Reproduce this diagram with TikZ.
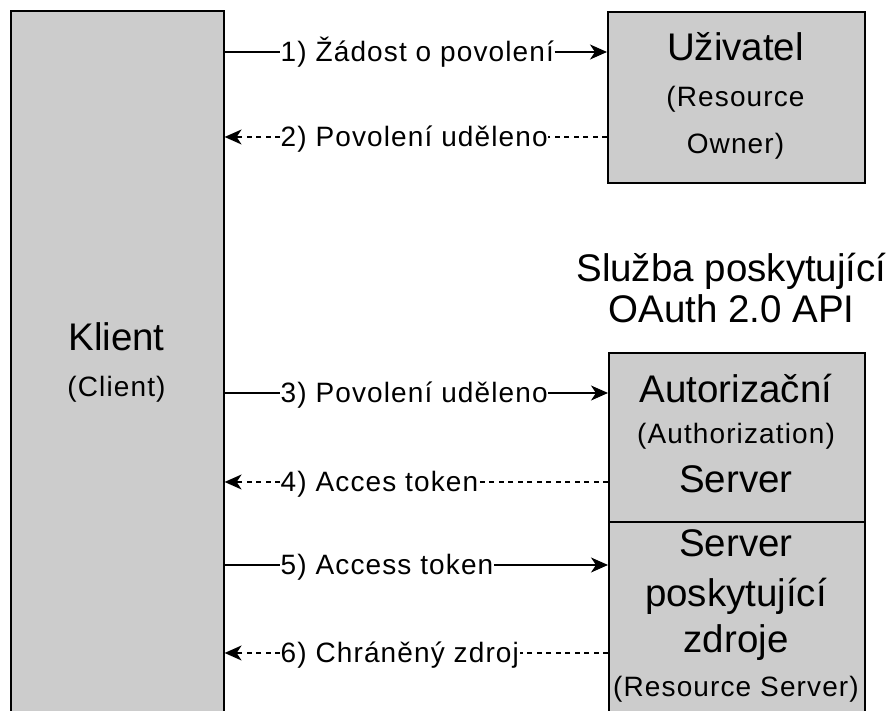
\documentclass[tikz,border=0pt]{standalone}
\usepackage{fontspec}
\setmainfont{Liberation Sans}
\newfontfamily\lblfont{Liberation Sans}[LetterSpace=4]
\newfontfamily\bigfont{Liberation Sans}
\usetikzlibrary{arrows.meta}
\definecolor{boxgray}{HTML}{CCCCCC}
\begin{document}
\begin{tikzpicture}[x=1pt,y=1pt,
  box/.style={draw=black, line width=1.6pt, fill=boxgray, inner sep=0pt, anchor=north west},
  big/.style={font=\bigfont\fontsize{38.5}{44}\selectfont, inner sep=0pt, anchor=base},
  small/.style={font=\lblfont\fontsize{28}{34}\selectfont, inner sep=0pt, anchor=base},
  lbl/.style={font=\lblfont\fontsize{28}{34}\selectfont, inner sep=0.5pt, anchor=west, text height=20pt, text depth=0pt},
  conn/.style={line width=1.5pt},
  headed/.style={-{Stealth[length=17pt,width=15pt,inset=5pt]}},
  dsh/.style={dash pattern=on 5pt off 4.5pt}
]
\clip (0,0) rectangle (887,711);
\fill[white] (0,0) rectangle (887,711);

% boxes
\node[box, minimum width=213pt, minimum height=760pt] (client) at (10,701) {};
\node[box, minimum width=257pt, minimum height=171pt] (user) at (607,700) {};
\node[box, minimum width=256pt, minimum height=169pt] (auth) at (608,359) {};
\node[box, minimum width=256pt, minimum height=260pt] (res) at (608,190) {};

% box texts
\node[big] (klient) at (116.5,360) {Klient};
\node[small] (klientEn) at (116.5,314) {(Client)};

\node[big] (uziv) at (735.5,650) {Uživatel};
\node[small] (uzivEnA) at (735.5,604) {(Resource};
\node[small] (uzivEnB) at (735.5,557) {Owner)};

\node[big] (titleA) at (731.5,429) {Služba poskytující};
\node[big] (titleB) at (731.5,388) {OAuth 2.0 API};

\node[big] (authA) at (736,308) {Autorizační};
\node[small] (authB) at (736,267) {(Authorization)};
\node[big] (authC) at (736,218) {Server};

\node[big] (resA) at (736,154) {Server};
\node[big] (resB) at (736,104) {poskytující};
\node[big] (resC) at (736,58) {zdroje};
\node[small] (resD) at (736,14) {(Resource Server)};

% labels
\node[lbl] (l1) at (280,659) {1) Žádost o povolení};
\node[lbl] (l2) at (280,574) {2) Povolení uděleno};
\node[lbl] (l3) at (280,318) {3) Povolení uděleno};
\node[lbl] (l4) at (280,229) {4) Acces token};
\node[lbl] (l5) at (280,146) {5) Access token};
\node[lbl] (l6) at (280,58) {6) Chráněný zdroj};

% connectors
\draw[conn] (client.east |- l1) -- (l1.west);
\draw[conn,headed] (l1.east) -- (user.west |- l1);

\draw[conn,dsh] (user.west |- l2) -- (l2.east);
\draw[conn,dsh,headed] (l2.west) -- (client.east |- l2);

\draw[conn] (client.east |- l3) -- (l3.west);
\draw[conn,headed] (l3.east) -- (auth.west |- l3);

\draw[conn,dsh] (auth.west |- l4) -- (l4.east);
\draw[conn,dsh,headed] (l4.west) -- (client.east |- l4);

\draw[conn] (client.east |- l5) -- (l5.west);
\draw[conn,headed] (l5.east) -- (res.west |- l5);

\draw[conn,dsh] (res.west |- l6) -- (l6.east);
\draw[conn,dsh,headed] (l6.west) -- (client.east |- l6);
\end{tikzpicture}
\end{document}
